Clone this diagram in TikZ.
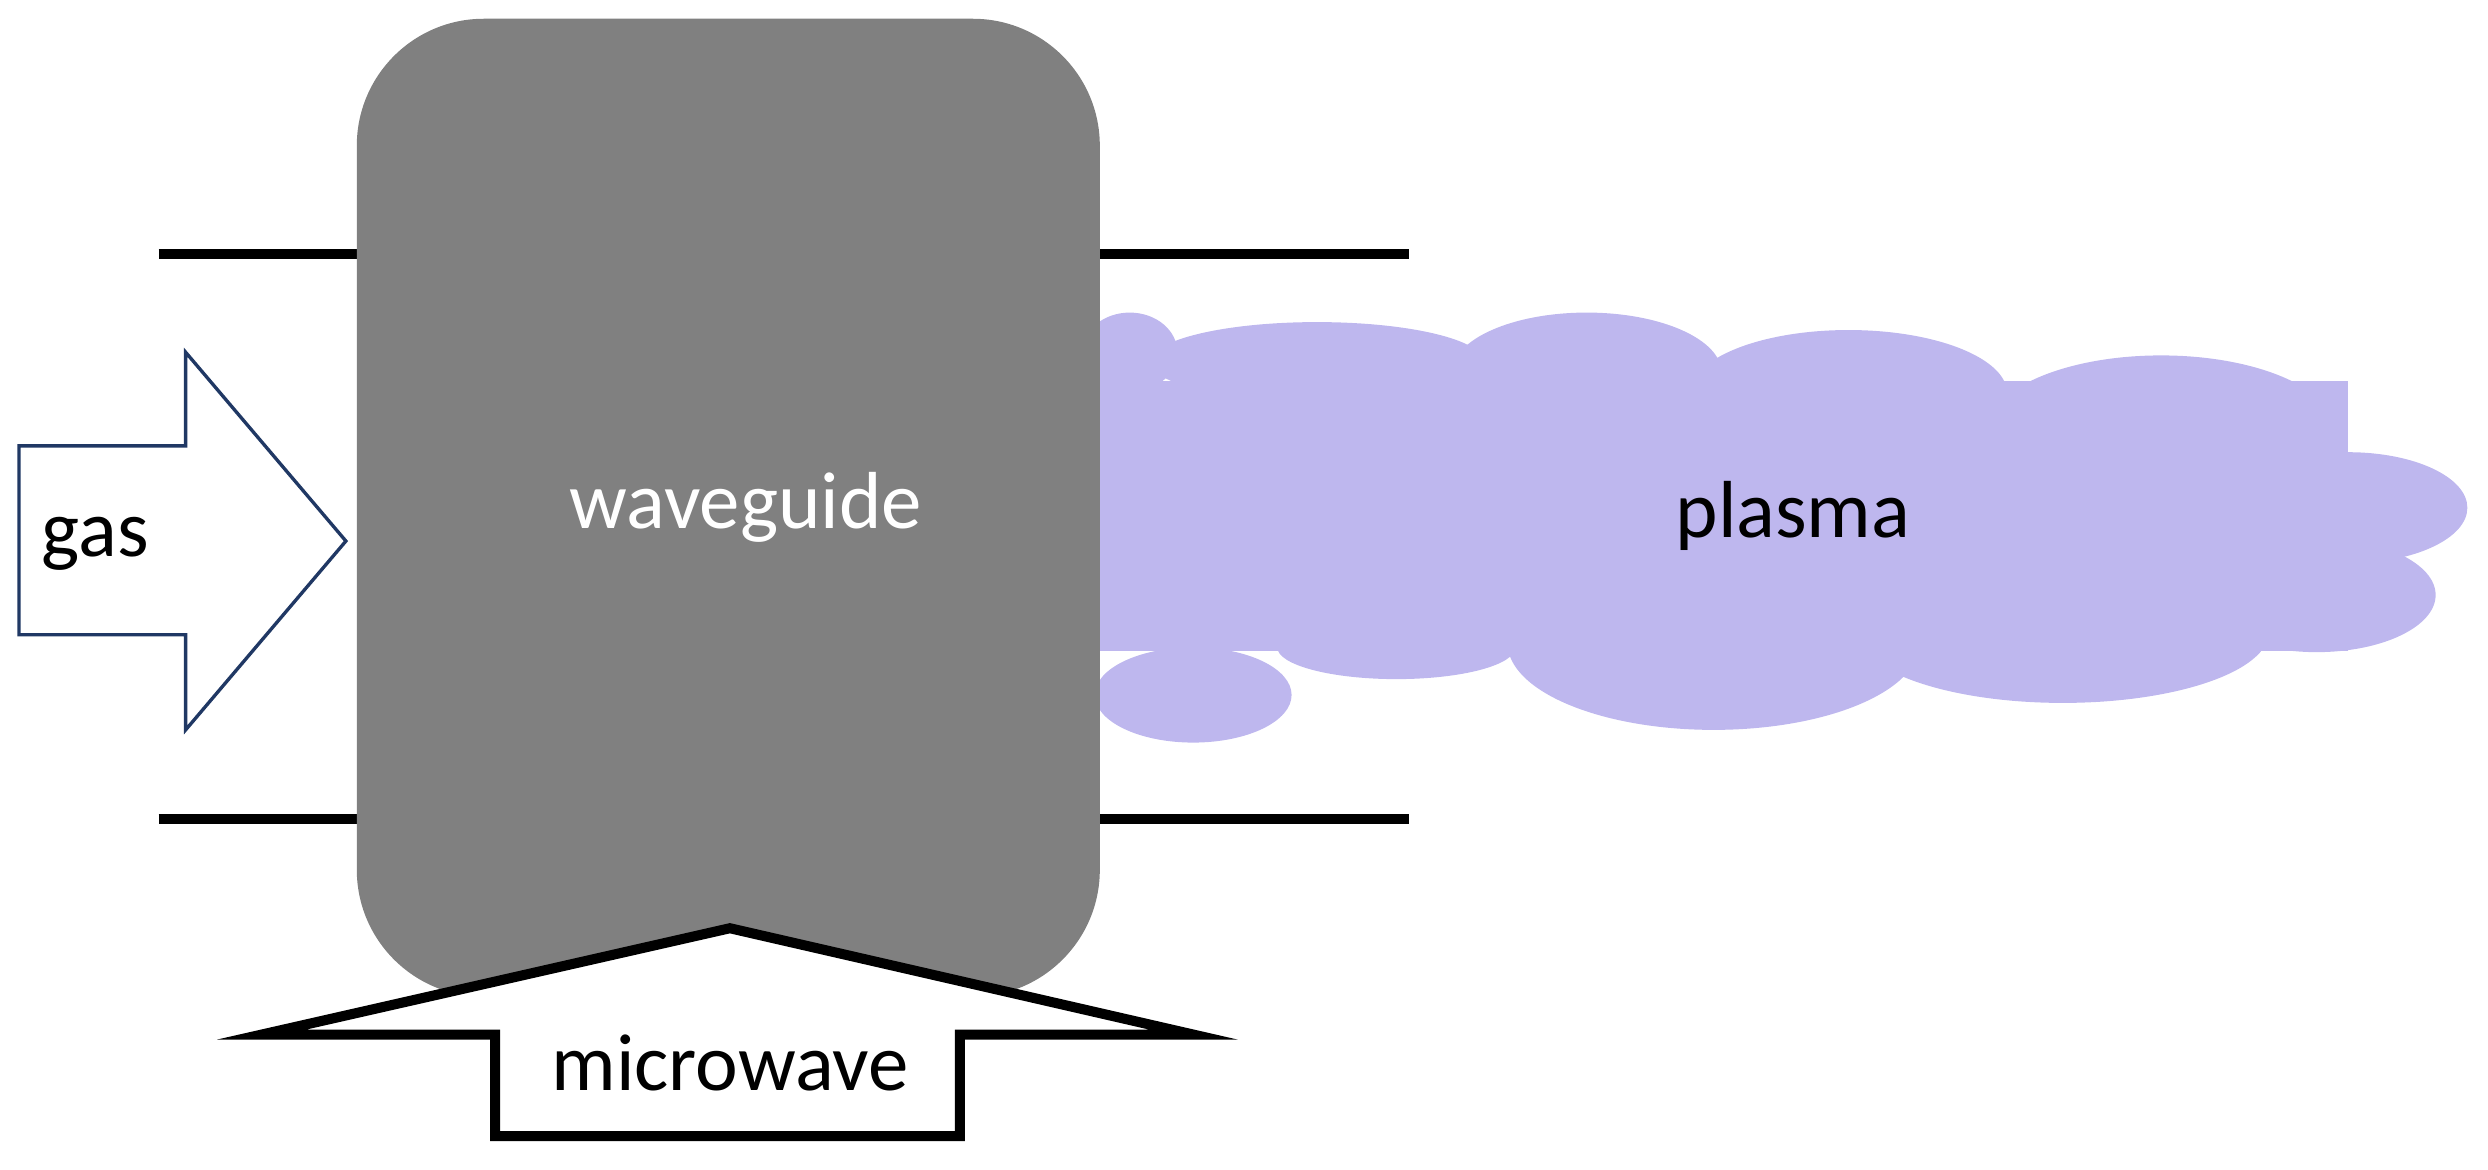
\documentclass[tikz,border=0pt]{standalone}
\usepackage{fontspec}
\setmainfont{Carlito}
\definecolor{plasmac}{RGB}{190,183,238}
\definecolor{wgc}{RGB}{128,128,128}
\definecolor{navy}{RGB}{32,56,100}
\begin{document}
\begin{tikzpicture}[x=0.01cm,y=-0.01cm,
  wall/.style={line width=1.8pt,black},
  lbl/.style={font=\fontsize{14.5}{17}\selectfont}]
\useasboundingbox (0,0) rectangle (1568,737);
% tube walls
\draw[wall] (100,160) -- (888,160);
\draw[wall] (100,516) -- (888,516);
% plasma cloud
\begin{scope}[fill=plasmac]
\fill (690,240) rectangle (1480,410);
\fill (712,222) ellipse (30 and 25);
\fill (830,228) ellipse (105 and 25);
\fill (1000,235) ellipse (85 and 38);
\fill (1165,248) ellipse (100 and 40);
\fill (1362,272) ellipse (110 and 48);
\fill (1480,320) ellipse (75 and 35);
\fill (1460,375) ellipse (75 and 36);
\fill (1080,405) ellipse (130 and 55);
\fill (1300,398) ellipse (130 and 45);
\fill (880,408) ellipse (75 and 20);
\fill (752,438) ellipse (62 and 30);
\end{scope}
\node[lbl] (plasma) at (1130,325) {plasma};
% waveguide
\node[draw=none,fill=wgc,rounded corners=0.8cm,minimum width=4.68cm,minimum height=6.16cm,
  text=white,font=\fontsize{14.5}{17}\selectfont] (wg) at (459,320) {};
\node[lbl,text=white] (wgl) at (470,320) {waveguide};
% gas arrow
\draw[navy,fill=white,line width=0.6pt] (12,281) -- (117,281) -- (117,222) -- (218,341)
  -- (117,460) -- (117,400) -- (12,400) -- cycle;
\node[lbl] (gas) at (60,343) {gas};
% microwave arrow
\draw[black,fill=white,line width=1.8pt,line join=miter] (460,585) -- (752,652) -- (605,652) -- (605,716)
  -- (312,716) -- (312,652) -- (165,652) -- cycle;
\node[lbl] (mw) at (460,670) {microwave};
\end{tikzpicture}
\end{document}
